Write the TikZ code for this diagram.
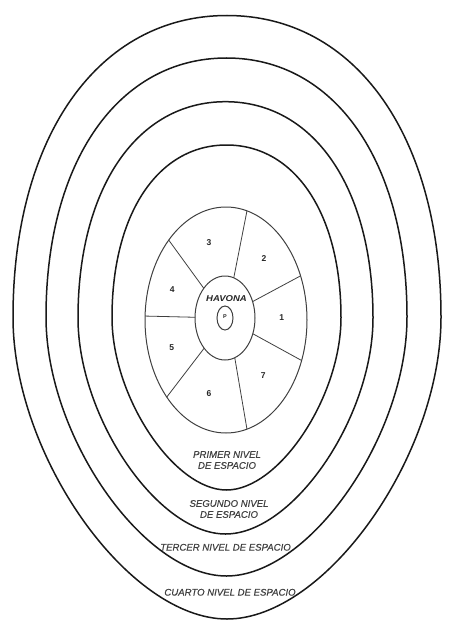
\documentclass[tikz,border=0pt]{standalone}
\usepackage{fontspec}
\setmainfont{Liberation Sans}
\def\kt{0.60}
\def\kb{0.46}
\begin{document}
\begin{tikzpicture}[x=1pt,y=-1pt,
  ring/.style={draw=black!90,line width=1.5pt},
  sect/.style={draw=black!75,line width=0.8pt},
  lvl/.style={text=black!75,font=\fontsize{9.6}{11}\selectfont\itshape\addfontfeature{FakeBold=0.3},align=center,inner sep=0pt},
  num/.style={text=black!85,font=\fontsize{8.5}{9}\selectfont\bfseries,inner sep=0pt}]
\fill[white] (0,0) rectangle (450,626);
\path[use as bounding box] (0,0) rectangle (450,626);
% rings (egg shaped: fuller at top, narrower at bottom)
\foreach \cx/\cy/\a/\b in {227/317.25/214/301.75, 226.5/317/180.5/259, 225.5/317.85/147.5/216.15, 226.5/317.5/114.5/172.5}
  \draw[ring] ({\cx-\a},\cy)
     .. controls ({\cx-\a},{\cy-\kt*\b}) and ({\cx-\kt*\a},{\cy-\b}) .. (\cx,{\cy-\b})
     .. controls ({\cx+\kt*\a},{\cy-\b}) and ({\cx+\a},{\cy-\kt*\b}) .. ({\cx+\a},\cy)
     .. controls ({\cx+\a},{\cy+\kb*\b}) and ({\cx+\kb*\a},{\cy+\b}) .. (\cx,{\cy+\b})
     .. controls ({\cx-\kb*\a},{\cy+\b}) and ({\cx-\a},{\cy+\kb*\b}) .. ({\cx-\a},\cy) -- cycle;
% superuniverse ellipse
\draw[sect,line width=1pt] (226,320) ellipse [x radius=81pt, y radius=113pt];
% havona and paradise
\draw[sect,line width=1pt] (225,318) ellipse [x radius=30pt, y radius=42pt];
\draw[sect,line width=1pt] (225,318) ellipse [x radius=8pt, y radius=12pt];
% sector lines
\foreach \a/\b in {-73/-75, -23/-23, 22/21, 71/75, 134/137, 181/182, 225/225}
  \draw[sect] ({225+30*cos(\a)},{318+42*sin(\a)}) -- ({226+81*cos(\b)},{320+113*sin(\b)});
% labels
\node[num] (n1) at (281.7,317.7) {1};
\node[num] (n2) at (264,259) {2};
\node[num] (n3) at (209,242.7) {3};
\node[num] (n4) at (172.3,289.3) {4};
\node[num] (n5) at (171.7,347.3) {5};
\node[num] (n6) at (209,394) {6};
\node[num] (n7) at (263.3,376) {7};
\node[num,font=\fontsize{8.5}{9}\selectfont\bfseries\itshape\addfontfeature{FakeStretch=1.12}] (hav) at (226.5,298.3) {HAVONA};
\node[num,font=\fontsize{5.5}{6}\selectfont\bfseries] (p) at (225,317) {P};
\node[lvl] (l1) at (227,460) {PRIMER NIVEL\\DE ESPACIO};
\node[lvl] (l2) at (229,509) {SEGUNDO NIVEL\\DE ESPACIO};
\node[lvl] (l3) at (225.5,547.3) {TERCER NIVEL DE ESPACIO};
\node[lvl] (l4) at (230,592.3) {CUARTO NIVEL DE ESPACIO};
\end{tikzpicture}
\end{document}
